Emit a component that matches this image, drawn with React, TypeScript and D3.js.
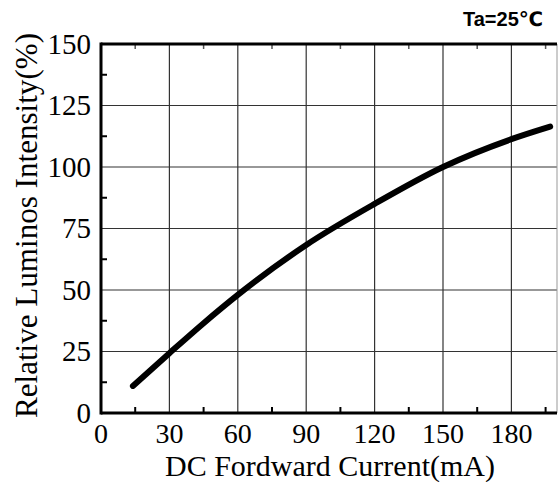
import React from "react";
import * as d3 from "d3";

const currents = [14, 30, 45, 60, 90, 120, 150, 180, 197];
const intensities = [11, 24.3, 36.5, 48, 68.3, 85, 100, 111.3, 116.4];
const xTicks = [0, 30, 60, 90, 120, 150, 180];
const yTicks = [0, 25, 50, 75, 100, 125, 150];
const xMinor = [15, 45, 75, 105, 135, 165, 195];
const yMinor = [12.5, 37.5, 62.5, 87.5, 112.5, 137.5];

const W = 558;
const H = 482;

export default function App() {
  const x = d3.scaleLinear().domain([0, 200]).range([101, 557]);
  const y = d3.scaleLinear().domain([0, 150]).range([413, 44]);
  const line = d3
    .line<number>()
    .x((_, i) => x(currents[i]))
    .y((d) => y(d))
    .curve(d3.curveMonotoneX);
  const serif = "'Liberation Serif', 'Times New Roman', serif";
  const sans = "'Liberation Sans', Arial, 'DejaVu Sans', sans-serif";
  const [x0, x1] = x.range();
  const [y0, y1] = y.range();
  return (
    <svg
      width={W}
      height={H}
      style={{ position: "absolute", left: 0, top: 0, background: "#fff" }}
    >
      <text
        x={48}
        y={-1}
        fontFamily={sans}
        fontWeight="bold"
        fontSize={30}
        fill="#999"
      >
        Forward Current
      </text>
      {/* grid */}
      {xTicks.slice(1).map((t) => (
        <line key={"gx" + t} x1={x(t)} x2={x(t)} y1={y0} y2={y1} stroke="#333" strokeWidth={1.2} />
      ))}
      {yTicks.slice(1, -1).map((t) => (
        <line key={"gy" + t} x1={x0} x2={x1} y1={y(t)} y2={y(t)} stroke="#333" strokeWidth={1.2} />
      ))}
      {/* minor ticks */}
      {xMinor.map((t) => (
        <g key={"mx" + t}>
          <line x1={x(t)} x2={x(t)} y1={y0} y2={y0 - 6} stroke="#000" strokeWidth={2} />
          <line x1={x(t)} x2={x(t)} y1={y1} y2={y1 + 5} stroke="#555" strokeWidth={1.5} />
        </g>
      ))}
      {yMinor.map((t) => (
        <line key={"my" + t} x1={x0} x2={x0 + 6} y1={y(t)} y2={y(t)} stroke="#000" strokeWidth={2} />
      ))}
      {/* frame */}
      <line x1={x1} x2={x1} y1={y0} y2={y1} stroke="#999" strokeWidth={1} />
      <line x1={x0} x2={x1} y1={y1} y2={y1} stroke="#000" strokeWidth={3} />
      <line x1={x0} x2={x1} y1={y0} y2={y0} stroke="#000" strokeWidth={3} />
      <line x1={x0} x2={x0} y1={y0 + 1.5} y2={y1 - 1.5} stroke="#000" strokeWidth={3} />
      {/* curve */}
      <path
        d={line(intensities) || ""}
        fill="none"
        stroke="#000"
        strokeWidth={6}
        strokeLinecap="round"
        strokeLinejoin="round"
      />
      {/* tick labels */}
      {yTicks.map((t) => (
        <text
          key={"ly" + t}
          x={91}
          y={y(t)}
          dy="0.34em"
          textAnchor="end"
          fontFamily={serif}
          fontSize={29}
          fill="#000"
        >
          {t}
        </text>
      ))}
      {xTicks.map((t) => (
        <text
          key={"lx" + t}
          x={x(t)}
          y={443}
          textAnchor="middle"
          fontFamily={serif}
          fontSize={28}
          fill="#000"
        >
          {t}
        </text>
      ))}
      <text
        x={165}
        y={476}
        textLength={330}
        lengthAdjust="spacingAndGlyphs"
        fontFamily={serif}
        fontSize={29}
        fill="#000"
      >
        DC Fordward Current(mA)
      </text>
      <text
        transform={`translate(37, 418) rotate(-90)`}
        textLength={385}
        lengthAdjust="spacingAndGlyphs"
        fontFamily={serif}
        fontSize={31}
        fill="#000"
      >
        Relative Luminos Intensity(%)
      </text>
      <text
        x={543}
        y={26}
        textAnchor="end"
        fontFamily={sans}
        fontWeight="bold"
        fontSize={20}
        fill="#000"
      >
        Ta=25℃
      </text>
    </svg>
  );
}
